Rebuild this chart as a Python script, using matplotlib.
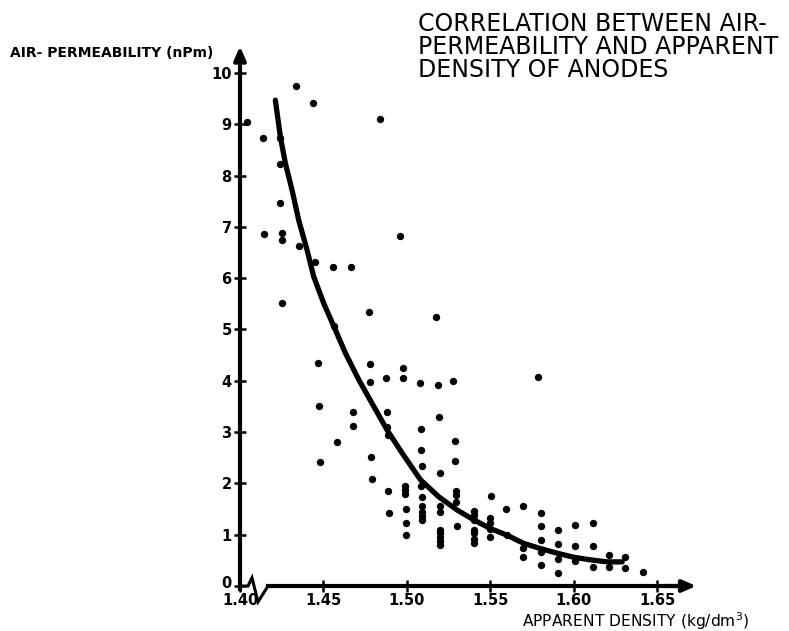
import matplotlib
matplotlib.use("Agg")
import matplotlib.pyplot as plt
import matplotlib.transforms as mtransforms

# ---- data ----
density = [1.4040, 1.4137, 1.4336, 1.4438, 1.4840, 1.4240, 1.4240, 1.4240, 1.4146, 1.4250,
           1.4250, 1.4354, 1.4958, 1.4450, 1.4556, 1.4663, 1.4250, 1.4773, 1.5177, 1.4562,
           1.4468, 1.4779, 1.4978, 1.4878, 1.4777, 1.4978, 1.5080, 1.5185, 1.5279, 1.5787,
           1.4472, 1.4679, 1.4884, 1.5191, 1.4679, 1.4884, 1.5084, 1.4890, 1.4583, 1.5289,
           1.5084, 1.4783, 1.5290, 1.4482, 1.5090, 1.5199, 1.4793, 1.4988, 1.4988, 1.4988,
           1.5084, 1.4890, 1.5295, 1.5295, 1.5295, 1.5090, 1.5502, 1.5090, 1.5090, 1.5090,
           1.5090, 1.5200, 1.5200, 1.4994, 1.4893, 1.5400, 1.5400, 1.5400, 1.5496, 1.5496,
           1.5301, 1.4994, 1.5405, 1.5405, 1.5405, 1.5405, 1.5496, 1.5496, 1.5200, 1.5200,
           1.5200, 1.5200, 1.5200, 1.4998, 1.5596, 1.5697, 1.5602, 1.5803, 1.5803, 1.5803,
           1.5803, 1.5803, 1.5904, 1.5904, 1.5904, 1.5904, 1.5697, 1.5697, 1.6008, 1.6008,
           1.6008, 1.6113, 1.6113, 1.6113, 1.6213, 1.6213, 1.6310, 1.6310, 1.6416]
permeability = [9.04, 8.74, 9.75, 9.41, 9.10, 8.74, 8.22, 7.46, 6.86, 6.89,
                6.74, 6.63, 6.82, 6.31, 6.21, 6.21, 5.51, 5.35, 5.25, 5.07,
                4.35, 4.32, 4.24, 4.05, 3.98, 4.05, 3.95, 3.92, 4.00, 4.08,
                3.51, 3.40, 3.39, 3.29, 3.12, 3.09, 3.07, 2.95, 2.80, 2.82,
                2.65, 2.52, 2.44, 2.41, 2.33, 2.20, 2.08, 1.95, 1.87, 1.79,
                1.94, 1.85, 1.85, 1.77, 1.64, 1.73, 1.75, 1.55, 1.45, 1.36,
                1.29, 1.55, 1.45, 1.50, 1.42, 1.47, 1.38, 1.29, 1.32, 1.23,
                1.16, 1.22, 1.10, 1.03, 0.91, 0.84, 1.12, 0.96, 1.09, 1.03,
                0.95, 0.87, 0.80, 0.99, 1.51, 1.55, 0.99, 1.42, 1.16, 0.90,
                0.66, 0.40, 1.09, 0.81, 0.53, 0.26, 0.75, 0.57, 1.18, 0.78,
                0.49, 1.23, 0.78, 0.38, 0.60, 0.38, 0.56, 0.36, 0.28]

curve_x = [1.4212, 1.4242, 1.4272, 1.4312, 1.4352, 1.4402, 1.4442, 1.4502, 1.4572,
           1.4632, 1.4712, 1.4802, 1.4882, 1.4972, 1.5082, 1.5191, 1.5302, 1.5401,
           1.5501, 1.5601, 1.5701, 1.5801, 1.5901, 1.6001, 1.6101, 1.6201, 1.6291]
curve_y = [9.47, 8.76, 8.24, 7.72, 7.13, 6.55, 6.03, 5.51, 4.99,
           4.54, 4.02, 3.50, 3.04, 2.59, 2.07, 1.74, 1.48, 1.29,
           1.12, 0.99, 0.83, 0.73, 0.64, 0.56, 0.51, 0.47, 0.47]

x_ticks = [1.40, 1.45, 1.50, 1.55, 1.60, 1.65]
x_ticklabels = ["1.40", "1.45", "1.50", "1.55", "1.60", "1.65"]
y_ticks = list(range(0, 11))

title = "CORRELATION BETWEEN AIR-\nPERMEABILITY AND APPARENT\nDENSITY OF ANODES"
ylabel = "AIR- PERMEABILITY (nPm)"
xlabel = "APPARENT DENSITY (kg/dm$^3$)"

# ---- figure ----
W, H = 789, 631
fig = plt.figure(figsize=(W / 100, H / 100), dpi=100)
ax = fig.add_axes([223.3 / W, 29.6 / H, 500.5 / W, 559.2 / H])
ax.set_xlim(1.39, 1.69)
ax.set_ylim(-0.3, 10.6)
ax.patch.set_alpha(0)

for s in ["top", "right"]:
    ax.spines[s].set_visible(False)
ax.spines["left"].set_position(("data", 1.40))
ax.spines["left"].set_bounds(-0.05, 10.35)
ax.spines["left"].set_linewidth(3)
ax.spines["bottom"].set_position(("data", 0))
ax.spines["bottom"].set_visible(False)

# y arrow
ax.annotate("", xy=(1.40, 10.52), xytext=(1.40, 10.2),
            arrowprops=dict(arrowstyle="-|>,head_width=0.35,head_length=0.8",
                            color="black", lw=3, shrinkA=0, shrinkB=0))
# x axis with break
ax.plot([1.40, 1.4048, 1.4072, 1.4108, 1.4168], [0, 0, 0.16, -0.31, 0],
        color="black", lw=2.2, solid_joinstyle="miter", clip_on=False)
ax.plot([1.4168, 1.663], [0, 0], color="black", lw=3, clip_on=False)
ax.annotate("", xy=(1.6735, 0), xytext=(1.655, 0),
            arrowprops=dict(arrowstyle="-|>,head_width=0.35,head_length=0.8",
                            color="black", lw=3, shrinkA=0, shrinkB=0))

ax.set_xticks(x_ticks)
ax.set_xticklabels(x_ticklabels)
ax.set_yticks(y_ticks)
ax.tick_params(direction="inout", length=8, width=1.8, colors="black", pad=2)
ax.tick_params(axis="x", pad=1)
for lab in ax.get_xticklabels() + ax.get_yticklabels():
    lab.set_fontweight("bold")
    lab.set_fontsize(10.5)

# nudge the "0" label up slightly so it clears "1.40"
zero_lab = ax.yaxis.get_major_ticks()[0].label1
zero_lab.set_transform(zero_lab.get_transform() +
                       mtransforms.ScaledTranslation(0, 3 / 72, fig.dpi_scale_trans))

ax.scatter(density, permeability, s=28, color="black", zorder=3, linewidths=0)
ax.plot(curve_x, curve_y, color="black", lw=3.8, solid_capstyle="round",
        solid_joinstyle="round", zorder=4)

fig.text(418 / W, 1 - 12 / H, title, ha="left", va="top", fontsize=17,
         linespacing=0.95, color="black")
fig.text(10 / W, 1 - 57 / H, ylabel, ha="left", va="baseline", fontsize=10,
         fontweight="bold")
fig.text(522 / W, 1 - 627 / H, xlabel, ha="left", va="baseline", fontsize=11.2)

fig.savefig("out.png", dpi=100, facecolor="white")
